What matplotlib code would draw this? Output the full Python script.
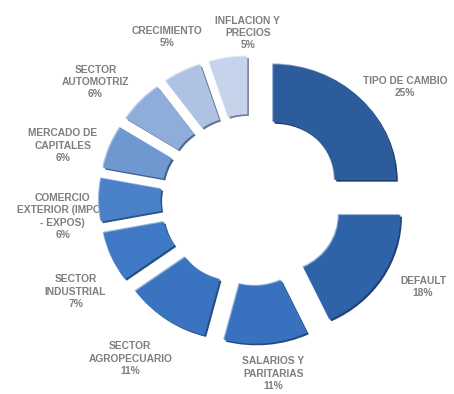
import matplotlib
matplotlib.use("Agg")
import matplotlib.pyplot as plt
import matplotlib.patches as mpatches
import matplotlib.transforms as mtransforms
from matplotlib.colors import to_rgb
import numpy as np

categories = ["TIPO DE CAMBIO", "DEFAULT", "SALARIOS Y\nPARITARIAS", "SECTOR\nAGROPECUARIO",
              "SECTOR\nINDUSTRIAL", "COMERCIO\nEXTERIOR (IMPOS\n- EXPOS)", "MERCADO DE\nCAPITALES",
              "SECTOR\nAUTOMOTRIZ", "CRECIMIENTO", "INFLACION Y\nPRECIOS"]
values = [25, 18, 11, 11, 7, 6, 6, 6, 5, 5]

colors = ["#2C5C9C", "#2F63A8", "#3871BD", "#3A74C1", "#3F79C5", "#4A81C9",
          "#6F98D1", "#8FADDA", "#AEC2E3", "#C6D3EA"]

# layout (pixels)
W, H = 454, 394
sy = 0.94                      # vertical squash of the reference donut
cx, cy_pix = 252, 200          # centre in image pixels (y from top)
R = 123
explode_px = 30
label_dist = [190, 192, 175, 200, 199, 190, 197, 196, 184, 167]
label_dang = [8.6, -5.4, -1.6, 3.3, -4.1, -5.0, -5.6, -6.2, -0.5, 7.6]

fig = plt.figure(figsize=(W / 100, H / 100), dpi=100)
ax = fig.add_axes([0, 0, 1, 1])
cy = (H - cy_pix) / sy

wedges, _ = ax.pie(values, colors=colors, startangle=90, counterclock=False,
                   radius=R, center=(cx, cy), explode=[explode_px] * len(values),
                   wedgeprops=dict(width=R * 0.5, linewidth=0),
                   frame=True)
ax.set_xlim(0, W)
ax.set_ylim(0, H / sy)
ax.set_aspect("auto")
ax.axis("off")


def mix(c, t, k):
    c = np.array(to_rgb(c))
    return tuple(c + (np.array(t) - c) * k)


# bevel: dark shadow down-right, light highlight up-left
for w, c in zip(wedges, colors):
    w.set_zorder(4)
    for (dx, dy), col, z in [((1.6, -1.6), mix(c, (0.05, 0.1, 0.2), 0.45), 3),
                             ((-1.0, 1.0), mix(c, (1, 1, 1), 0.45), 3.5)]:
        off = mtransforms.ScaledTranslation(dx / 100, dy / 100, fig.dpi_scale_trans)
        sh = mpatches.Wedge(w.center, w.r, w.theta1, w.theta2, width=w.width,
                            facecolor=col, linewidth=0, zorder=z,
                            transform=ax.transData + off)
        ax.add_patch(sh)

total = sum(values)
cum = 0
for i, (cat, v) in enumerate(zip(categories, values)):
    mid = (cum + v / 2) / total * 360
    cum += v
    a = np.deg2rad(mid + label_dang[i])
    x = cx + label_dist[i] * np.sin(a)
    y = (H - (cy_pix - label_dist[i] * np.cos(a))) / sy
    ax.text(x, y, f"{cat}\n{v}%", ha="center", va="center", fontsize=7.4,
            fontweight="bold", color="#7F7F7F", family=["Liberation Sans", "DejaVu Sans"],
            linespacing=1.3, zorder=2)

fig.savefig("out.png", dpi=100)
